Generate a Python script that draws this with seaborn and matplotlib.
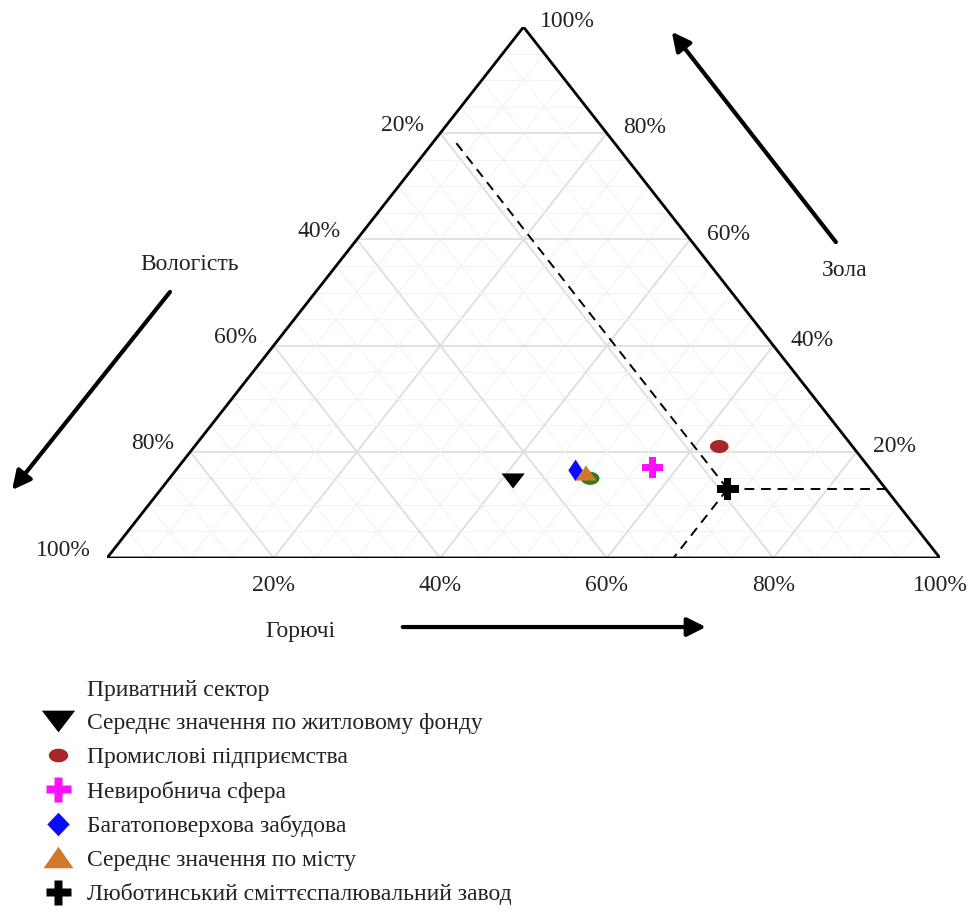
import numpy as np
import pandas as pd
import seaborn as sns
import matplotlib.pyplot as plt
from matplotlib.lines import Line2D

# морфологічний склад відходів, % : горючі, зола, вологість
groups = ['Приватний сектор',
          'Середнє значення по житловому фонду',
          'Промислові підприємства',
          'Невиробнича сфера',
          'Багатоповерхова забудова',
          'Середнє значення по місту',
          'Люботинський сміттєспалювальний завод']
combustible = [50.5, 41.5, 63.0, 57.0, 48.0, 49.5, 68.0]
ash = [15.0, 14.5, 21.0, 17.0, 16.5, 16.0, 13.0]
moisture = [34.5, 44.0, 16.0, 26.0, 35.5, 34.5, 19.0]

tick_values = [20, 40, 60, 80, 100]
tick_labels = ['20%', '40%', '60%', '80%', '100%']

sns.set_style('white')
plt.rcParams['font.family'] = ['Liberation Serif', 'DejaVu Serif']
txt_color = '#222222'


def tern(c, a):
    # горючі -> праворуч, зола -> вгору, вологість -> ліворуч
    c = np.asarray(c, dtype=float) / 100
    a = np.asarray(a, dtype=float) / 100
    return c + a / 2, a


fig = plt.figure(figsize=(9.78, 9.14), dpi=100)
ax = fig.add_axes([107 / 978, 356 / 914, 833 / 978, 531 / 914])
ax.set_xlim(0, 1)
ax.set_ylim(0, 1)
ax.axis('off')

# grid
for k in np.arange(5, 100, 5):
    major = k % 20 == 0
    col = '#dedede' if major else '#f2f2f2'
    lw = 1.3 if major else 0.8
    for c_pts, a_pts in [([0, 100 - k], [k, k]),
                         ([k, k], [0, 100 - k]),
                         ([100 - k, 0], [0, 100 - k])]:
        gx, gy = tern(c_pts, a_pts)
        ax.plot(gx, gy, color=col, lw=lw, zorder=1)

# triangle
bx, by = tern([0, 100, 0, 0], [0, 0, 100, 0])
ax.plot(bx, by, color='black', lw=2.0, zorder=3, solid_joinstyle='miter')

# dashed guides through the plant point
c0, a0, m0 = combustible[-1], ash[-1], moisture[-1]
for c_end, a_end in [(c0 + m0, a0), (c0, 0), (2, 100 - m0 - 2)]:
    dx, dy = tern([c0, c_end], [a0, a_end])
    ax.plot(dx, dy, color='black', lw=1.4, ls=(0, (5, 3.5)), zorder=2)

# points
x, y = tern(combustible, ash)
df = pd.DataFrame({'group': groups, 'x': x, 'y': y})

t = np.linspace(0, 2 * np.pi, 40)
ellipse = list(zip(np.cos(t), 0.7 * np.sin(t)))
tri_down = [(-1, 0.65), (1, 0.65), (0, -0.65), (-1, 0.65)]
tri_up = [(-1, -0.72), (1, -0.72), (0, 0.72), (-1, -0.72)]
diamond = [(0, 1), (0.67, 0), (0, -1), (-0.67, 0), (0, 1)]
diamond_leg = [(0, 1), (0.95, 0), (0, -1), (-0.95, 0), (0, 1)]

colors = ['#2f7d1f', '#000000', '#a8262a', '#ff10ff', '#0a0aff', '#d0782c', '#000000']
markers = [ellipse, tri_down, ellipse, 'P', diamond, tri_up, 'P']
sizes = [180, 280, 180, 240, 240, 230, 250]
leg_markers = [ellipse, tri_down, ellipse, 'P', diamond_leg, tri_up, 'P']
leg_sizes = [0, 24, 14, 18, 17, 21.5, 18]

for g, col, mk, s in zip(groups, colors, markers, sizes):
    sns.scatterplot(data=df[df['group'] == g], x='x', y='y', marker=mk, s=s,
                    color=col, edgecolor='none', linewidth=0, ax=ax, zorder=5,
                    legend=False)

ax.set_xlim(0, 1)
ax.set_ylim(0, 1)

# tick labels
fs = 17
for v, lab in zip(tick_values, tick_labels):
    tx, ty = tern(v, 0)
    ax.text(tx, ty - 0.052, lab, ha='center', va='center', fontsize=fs, color=txt_color)
    tx, ty = tern(100 - v, v)
    ax.text(tx + 0.02, ty + 0.01, lab, ha='left', va='center', fontsize=fs, color=txt_color)
    tx, ty = tern(0, 100 - v)
    ax.text(tx - 0.02, ty + 0.015, lab, ha='right', va='center', fontsize=fs, color=txt_color)

# axis titles and arrows
arrow = dict(arrowstyle='-|>', lw=3, color='black', mutation_scale=28, shrinkA=0, shrinkB=0)
ax.annotate('', xy=(0.678, 0.991), xytext=(0.875, 0.595), arrowprops=arrow, annotation_clip=False)
ax.annotate('', xy=(-0.114, 0.128), xytext=(0.0756, 0.501), arrowprops=arrow, annotation_clip=False)
ax.annotate('', xy=(0.719, -0.130), xytext=(0.355, -0.130), arrowprops=arrow, annotation_clip=False)
ax.text(0.886, 0.542, 'Зола', ha='center', va='center', fontsize=fs, color=txt_color)
ax.text(0.0996, 0.552, 'Вологість', ha='center', va='center', fontsize=fs, color=txt_color)
ax.text(0.232, -0.139, 'Горючі', ha='center', va='center', fontsize=fs, color=txt_color)

# legend
handles = []
for i, (col, mk, ms) in enumerate(zip(colors, leg_markers, leg_sizes)):
    if i == 0:
        handles.append(Line2D([], [], ls='none', marker='None'))
    else:
        handles.append(Line2D([], [], ls='none', marker=mk, markersize=ms,
                              markerfacecolor=col, markeredgecolor='none'))
leg = fig.legend(handles, groups, loc='upper left', bbox_to_anchor=(0.041, 0.257),
                 frameon=False, fontsize=fs, labelspacing=0.52, handlelength=1.5,
                 handletextpad=0.5, borderpad=0, borderaxespad=0)
for txt in leg.get_texts():
    txt.set_color(txt_color)

fig.savefig('out.png', dpi=100)
